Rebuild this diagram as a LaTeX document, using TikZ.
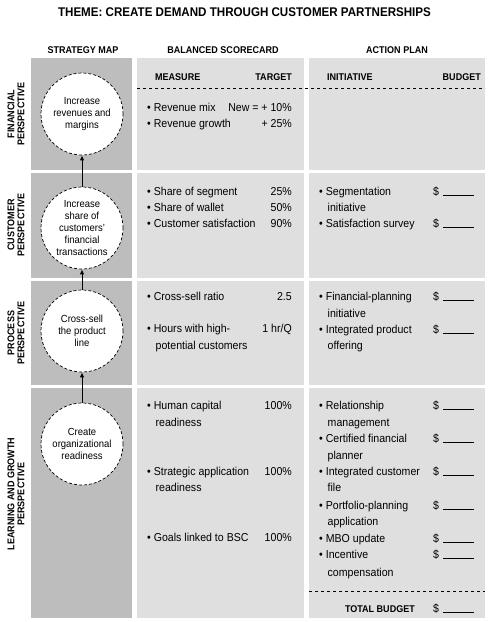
\documentclass[tikz,border=0pt]{standalone}
\usepackage{fontspec}
\setmainfont{Liberation Sans}[FakeStretch=0.92]
\usetikzlibrary{arrows.meta}
\definecolor{mapgray}{gray}{0.74}
\definecolor{cardgray}{gray}{0.875}
\newcommand{\dol}{\$\hspace{4pt}\rule[-0.5pt]{31pt}{0.6pt}}
\begin{document}
\begin{tikzpicture}[x=1pt,y=-1pt,
  ttl/.style={font=\bfseries\fontsize{12.6}{14}\selectfont, anchor=base, inner sep=0},
  hdr/.style={font=\bfseries\fontsize{9.8}{11}\selectfont, anchor=base, inner sep=0},
  persp/.style={font=\bfseries\fontsize{9.8}{10.2}\selectfont, rotate=90, align=center, inner sep=0},
  itm/.style={font=\fontsize{11.5}{13}\selectfont, anchor=base west, inner sep=0},
  tgt/.style={font=\fontsize{11.5}{13}\selectfont, anchor=base east, inner sep=0},
  goal/.style={circle, draw, densely dashed, line width=0.7pt, fill=white, minimum size=82pt, inner sep=0, align=center, font=\fontsize{10.3}{12}\selectfont},
  arr/.style={-{Latex[length=5pt,width=4.5pt]}, line width=1pt},
  sep/.style={dashed, line width=0.7pt}]
\useasboundingbox (0,0) rectangle (489,622);
% panels
\fill[mapgray] (31,58) rectangle (132,170);
\fill[mapgray] (31,173) rectangle (132,278);
\fill[mapgray] (31,281) rectangle (132,385);
\fill[mapgray] (31,388) rectangle (132,618);
\fill[cardgray] (137,58) rectangle (304,170);
\fill[cardgray] (137,173) rectangle (304,278);
\fill[cardgray] (137,281) rectangle (304,385);
\fill[cardgray] (137,388) rectangle (304,618);
\fill[cardgray] (309,58) rectangle (485,170);
\fill[cardgray] (309,173) rectangle (485,278);
\fill[cardgray] (309,281) rectangle (485,385);
\fill[cardgray] (309,388) rectangle (485,618);
% title and headers
\node[ttl] (title) at (244.5,16.5) {THEME: CREATE DEMAND THROUGH CUSTOMER PARTNERSHIPS};
\node[hdr] (h1) at (83,53.5) {STRATEGY MAP};
\node[hdr] (h2) at (223,53.5) {BALANCED SCORECARD};
\node[hdr] (h3) at (397,53.5) {ACTION PLAN};
\node[hdr, anchor=base west] (m1) at (155,80.5) {MEASURE};
\node[hdr, anchor=base east] (m2) at (292,80.5) {TARGET};
\node[hdr, anchor=base west] (m3) at (327,80.5) {INITIATIVE};
\node[hdr, anchor=base east] (m4) at (481,80.5) {BUDGET};
\draw[sep] (137,88) -- (485,88);
% perspectives
\node[persp] (p1) at (16,114) {FINANCIAL\\PERSPECTIVE};
\node[persp] (p2) at (16,225) {CUSTOMER\\PERSPECTIVE};
\node[persp] (p3) at (16,333) {PROCESS\\PERSPECTIVE};
\node[persp] (p4) at (16,494) {LEARNING AND GROWTH\\PERSPECTIVE};
% strategy map
\node[goal] (g1) at (82,114) {Increase\\revenues and\\margins};
\node[goal] (g2) at (82,228) {Increase\\share of\\customers’\\financial\\transactions};
\node[goal] (g3) at (82,331) {Cross-sell\\the product\\line};
\node[goal] (g4) at (82,444) {Create\\organizational\\readiness};
\draw[arr] (g2.north) -- (g1.south);
\draw[arr] (g3.north) -- (g2.south);
\draw[arr] (g4.north) -- (g3.south);
% scorecard
\node[itm] (s1) at (147,111) {• Revenue mix};
\node[tgt] (t1) at (292,111) {New = + 10\%};
\node[itm] (s2) at (147,127.5) {• Revenue growth};
\node[tgt] (t2) at (292,127.5) {+ 25\%};
\node[itm] (s3) at (147,195) {• Share of segment};
\node[tgt] (t3) at (292,195) {25\%};
\node[itm] (s4) at (147,211) {• Share of wallet};
\node[tgt] (t4) at (292,211) {50\%};
\node[itm] (s5) at (147,227) {• Customer satisfaction};
\node[tgt] (t5) at (292,227) {90\%};
\node[itm] (s6) at (147,300) {• Cross-sell ratio};
\node[tgt] (t6) at (292,300) {2.5};
\node[itm] (s7) at (147,332) {• Hours with high-};
\node[tgt] (t7) at (292,332) {1 hr/Q};
\node[itm] (s7b) at (155.5,349) {potential customers};
\node[itm] (s8) at (147,409) {• Human capital};
\node[tgt] (t8) at (292,409) {100\%};
\node[itm] (s8b) at (155.5,426) {readiness};
\node[itm] (s9) at (147,475) {• Strategic application};
\node[tgt] (t9) at (292,475) {100\%};
\node[itm] (s9b) at (155.5,491) {readiness};
\node[itm] (s10) at (147,541) {• Goals linked to BSC};
\node[tgt] (t10) at (292,541) {100\%};
% action plan
\node[itm] (a1) at (319,195) {• Segmentation};
\node[itm] (a1b) at (327.5,211) {initiative};
\node[itm] (b1) at (433,195) {\dol};
\node[itm] (a2) at (319,227) {• Satisfaction survey};
\node[itm] (b2) at (433,227) {\dol};
\node[itm] (a3) at (319,300) {• Financial-planning};
\node[itm] (a3b) at (327.5,317) {initiative};
\node[itm] (b3) at (433,300) {\dol};
\node[itm] (a4) at (319,333) {• Integrated product};
\node[itm] (a4b) at (327.5,349) {offering};
\node[itm] (b4) at (433,333) {\dol};
\node[itm] (a5) at (319,409) {• Relationship};
\node[itm] (a5b) at (327.5,426) {management};
\node[itm] (b5) at (433,409) {\dol};
\node[itm] (a6) at (319,442) {• Certified financial};
\node[itm] (a6b) at (327.5,459) {planner};
\node[itm] (b6) at (433,442) {\dol};
\node[itm] (a7) at (319,475) {• Integrated customer};
\node[itm] (a7b) at (327.5,491) {file};
\node[itm] (b7) at (433,475) {\dol};
\node[itm] (a8) at (319,509) {• Portfolio-planning};
\node[itm] (a8b) at (327.5,525) {application};
\node[itm] (b8) at (433,509) {\dol};
\node[itm] (a9) at (319,542) {• MBO update};
\node[itm] (b9) at (433,542) {\dol};
\node[itm] (a10) at (319,558) {• Incentive};
\node[itm] (a10b) at (327.5,576) {compensation};
\node[itm] (b10) at (433,558) {\dol};
\draw[sep] (309,591) -- (485,591);
\node[hdr, anchor=base east] (tb) at (415,612) {TOTAL BUDGET};
\node[itm] (b11) at (433,612) {\dol};
\end{tikzpicture}
\end{document}
